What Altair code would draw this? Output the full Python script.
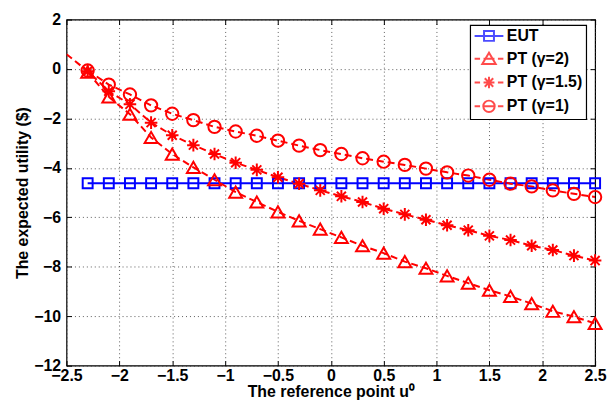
import altair as alt
import pandas as pd

x_vals = [-2.3, -2.1, -1.9, -1.7, -1.5, -1.3, -1.1, -0.9, -0.7, -0.5, -0.3, -0.1,
          0.1, 0.3, 0.5, 0.7, 0.9, 1.1, 1.3, 1.5, 1.7, 1.9, 2.1, 2.3, 2.5]
eut = [-4.62, -4.62, -4.62, -4.62, -4.62, -4.62, -4.62, -4.62, -4.62, -4.62, -4.62, -4.62,
       -4.62, -4.62, -4.62, -4.62, -4.62, -4.62, -4.62, -4.62, -4.62, -4.62, -4.62, -4.62, -4.62]
pt_g2 = [-0.13, -1.13, -1.83, -2.77, -3.44, -3.98, -4.48, -4.98, -5.38, -5.78, -6.14, -6.48,
         -6.81, -7.15, -7.45, -7.79, -8.06, -8.37, -8.66, -8.95, -9.2, -9.49, -9.8, -10.02, -10.29]
pt_g15 = [-0.09, -0.9, -1.43, -2.17, -2.68, -3.08, -3.44, -3.79, -4.08, -4.38, -4.64, -4.91,
          -5.15, -5.38, -5.65, -5.88, -6.1, -6.32, -6.52, -6.75, -6.92, -7.15, -7.32, -7.55, -7.75]
pt_g1 = [-0.06, -0.63, -1.03, -1.47, -1.81, -2.07, -2.34, -2.53, -2.70, -2.90, -3.1, -3.28,
         -3.44, -3.61, -3.75, -3.88, -4.03, -4.18, -4.31, -4.48, -4.64, -4.75, -4.91, -5.05, -5.18]
# unmarked start of the gamma=1.5 curve at the left edge
lead_x = [-2.5]
lead_y = [0.6]

series_names = ["EUT", "PT (γ=2)", "PT (γ=1.5)", "PT (γ=1)"]
series_colors = ["#0000ff", "#ff0000", "#ff0000", "#ff0000"]
x_ticks = [-2.5, -2, -1.5, -1, -0.5, 0, 0.5, 1, 1.5, 2, 2.5]
y_ticks = [-12, -10, -8, -6, -4, -2, 0, 2]

rows = []
for name, ys in zip(series_names, [eut, pt_g2, pt_g15, pt_g1]):
    for xv, yv in zip(x_vals, ys):
        rows.append({"series": name, "x": xv, "y": yv, "marked": True})
for xv, yv in zip(lead_x, lead_y):
    rows.append({"series": "PT (γ=1.5)", "x": xv, "y": yv, "marked": False})
df = pd.DataFrame(rows)

# rows that only feed the legend (placed outside the domain and clipped away)
legend_df = pd.DataFrame({"series": series_names, "x": [-50] * 4, "y": [-50] * 4})

FONT = "Liberation Sans"
xscale = alt.Scale(domain=[-2.5, 2.5], nice=False)
yscale = alt.Scale(domain=[-12, 2], nice=False)

# labelled axes (bottom / left) with inward ticks
xenc = alt.X("x:Q", scale=xscale,
             axis=alt.Axis(values=x_ticks, format="~g", title="The reference point u⁰",
                           orient="bottom", offset=-5, ticks=True, tickSize=5,
                           domain=False, labelPadding=2, titlePadding=0,
                           labelFlush=False, labelOverlap=False, grid=True))
yenc = alt.Y("y:Q", scale=yscale,
             axis=alt.Axis(values=y_ticks, format="~g", title="The expected utility ($)",
                           orient="left", offset=-5, ticks=True, tickSize=5,
                           domain=False, labelPadding=6, titlePadding=3,
                           labelFlush=False, labelOverlap=False, grid=True))
# tick-only axes (top / right) with inward ticks
xenc_top = alt.X("x:Q", scale=xscale,
                 axis=alt.Axis(values=x_ticks, orient="top", offset=-5, ticks=True,
                               tickSize=5, labels=False, domain=False, grid=False,
                               title=None))
yenc_right = alt.Y("y:Q", scale=yscale,
                   axis=alt.Axis(values=y_ticks, orient="right", offset=-5, ticks=True,
                                 tickSize=5, labels=False, domain=False, grid=False,
                                 title=None))

star_path = "M-1,0H1M0,-1V1M-0.72,-0.72L0.72,0.72M-0.72,0.72L0.72,-0.72"
marker_specs = [
    ("EUT", "square", 100, "#0000ff", []),
    ("PT (γ=2)", "triangle-up", 170, "#ff0000", [7, 4]),
    ("PT (γ=1.5)", star_path, 160, "#ff0000", [7, 4]),
    ("PT (γ=1)", "circle", 155, "#ff0000", [7, 4]),
]
line_layers = []
marker_layers = []
for i, (name, shape, size, col, dash_pat) in enumerate(marker_specs):
    line_kw = dict(strokeWidth=2, clip=True, color=col)
    if dash_pat:
        line_kw["strokeDash"] = dash_pat
    line_layers.append(
        alt.Chart(df).transform_filter(alt.datum.series == name)
        .mark_line(**line_kw)
        .encode(x=xenc if i == 0 else "x:Q", y=yenc if i == 0 else "y:Q", order="x:Q")
    )
    marker_layers.append(
        alt.Chart(df).transform_filter(
            (alt.datum.series == name) & (alt.datum.marked == True)
        ).mark_point(shape=shape, size=size, filled=False, color=col, strokeWidth=2,
                     opacity=1).encode(x="x:Q", y="y:Q")
    )

dash = "M-2.9,0H-1.8M-1.1,0H1.1M1.8,0H2.9"
legend_paths = [
    "M-2.9,0H2.9M-1,-1H1V1H-1Z",
    dash + "M0,-1.2L-1.35,1.05L1.35,1.05Z",
    dash + "M0,-1.15V1.15M-0.85,-0.85L0.85,0.85M-0.85,0.85L0.85,-0.85",
    dash + "M1.15,0A1.15,1.15,0,1,1,-1.15,0A1.15,1.15,0,1,1,1.15,0",
]

legend_layer = alt.Chart(legend_df).mark_point(
    filled=False, strokeWidth=2, clip=True
).encode(
    x=xenc_top, y=yenc_right,
    color=alt.Color("series:N", scale=alt.Scale(domain=series_names, range=series_colors),
                    sort=series_names, title=None),
    shape=alt.Shape("series:N", scale=alt.Scale(domain=series_names, range=legend_paths),
                    sort=series_names, title=None,
                    legend=alt.Legend(orient="none", legendX=407, legendY=5.5,
                                      symbolSize=100,
                                      symbolStrokeWidth=2, symbolOffset=8,
                                      labelOffset=10, rowPadding=4, padding=3,
                                      fillColor="white", strokeColor="black",
                                      labelFont=FONT, labelFontSize=16,
                                      labelFontWeight="bold", labelColor="black")),
)

data_layers = alt.layer(*line_layers, *marker_layers)

chart = alt.layer(data_layers, legend_layer).resolve_axis(
    x="independent", y="independent"
).properties(
    width=533, height=349,
    autosize=alt.AutoSizeParams(type="none"),
    padding={"left": 59, "top": 10, "right": 13, "bottom": 35},
).configure_view(
    stroke="black", strokeWidth=1.2
).configure_axis(
    labelFont=FONT, titleFont=FONT, labelFontSize=16, titleFontSize=16,
    labelFontWeight="bold", titleFontWeight="bold", labelColor="black", titleColor="black",
    tickColor="black", tickWidth=1,
    gridColor="#333333", gridDash=[1, 3], gridWidth=1, gridOpacity=0.8,
).configure_legend(
    cornerRadius=0, strokeWidth=1.2
)

chart.save("out.html", embed_options={"renderer": "svg", "actions": False})
